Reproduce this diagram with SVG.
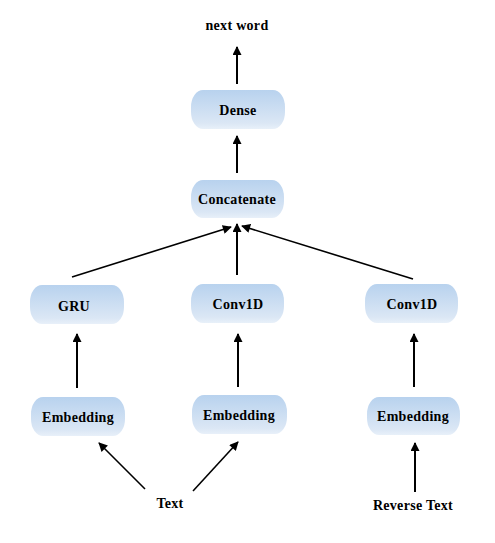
<svg xmlns="http://www.w3.org/2000/svg" width="495" height="543" viewBox="0 0 495 543">
<defs>
<linearGradient id="g" x1="0" y1="0" x2="0" y2="1">
<stop offset="0" stop-color="#b8d2ee"/>
<stop offset="0.85" stop-color="#dbe7f5"/>
<stop offset="1" stop-color="#e8f0f9"/>
</linearGradient>
<marker id="ah" viewBox="0 0 10 10" refX="9" refY="5" markerWidth="10" markerHeight="9" markerUnits="userSpaceOnUse" orient="auto">
<path d="M0,0 L10,5 L0,10 z" fill="#000"/>
</marker>
</defs>
<style>
.n{fill:url(#g);}
.t{font-family:'Liberation Serif','DejaVu Serif',serif;font-weight:bold;font-size:14px;letter-spacing:0.3px;text-anchor:middle;fill:#000;}
.v{stroke:#000;stroke-width:2;fill:none;marker-end:url(#ah);}
.d{stroke:#000;stroke-width:1.6;fill:none;marker-end:url(#ah);}
</style>
<rect width="495" height="543" fill="#fff"/>
<g id="labels">
<text class="t" x="237" y="30">next word</text>
<text class="t" x="170" y="508">Text</text>
<text class="t" x="413" y="510">Reverse Text</text>
</g>
<g id="dense"><rect class="n" x="191" y="90" width="94" height="39" rx="12" ry="17"/><text class="t" x="238" y="115">Dense</text></g>
<g id="concat"><rect class="n" x="191" y="180" width="93" height="38" rx="12" ry="17"/><text class="t" x="237" y="204">Concatenate</text></g>
<g id="gru"><rect class="n" x="30" y="285" width="94" height="39" rx="12" ry="17"/><text class="t" x="74" y="311">GRU</text></g>
<g id="conv1"><rect class="n" x="191" y="284" width="93" height="39" rx="12" ry="17"/><text class="t" x="238" y="309">Conv1D</text></g>
<g id="conv2"><rect class="n" x="365" y="284" width="93" height="39" rx="12" ry="17"/><text class="t" x="412" y="309">Conv1D</text></g>
<g id="emb1"><rect class="n" x="31" y="397" width="94" height="39" rx="12" ry="17"/><text class="t" x="78" y="422">Embedding</text></g>
<g id="emb2"><rect class="n" x="192" y="395" width="95" height="39" rx="12" ry="17"/><text class="t" x="239" y="420">Embedding</text></g>
<g id="emb3"><rect class="n" x="367" y="397" width="93" height="38" rx="12" ry="17"/><text class="t" x="413" y="421">Embedding</text></g>
<g id="connectors">
<line class="v" x1="237" y1="84" x2="237" y2="47"/>
<line class="v" x1="237" y1="173" x2="237" y2="136"/>
<line class="d" x1="72" y1="277" x2="231" y2="227"/>
<line class="v" x1="237" y1="275" x2="237" y2="224"/>
<line class="d" x1="413" y1="279" x2="242" y2="226"/>
<line class="v" x1="77" y1="388" x2="77" y2="334"/>
<line class="v" x1="238" y1="387" x2="238" y2="334"/>
<line class="v" x1="414" y1="387" x2="414" y2="334"/>
<line class="d" x1="145" y1="489" x2="99" y2="443"/>
<line class="d" x1="193" y1="491" x2="238" y2="442"/>
<line class="v" x1="415" y1="492" x2="415" y2="443"/>
</g>
</svg>
